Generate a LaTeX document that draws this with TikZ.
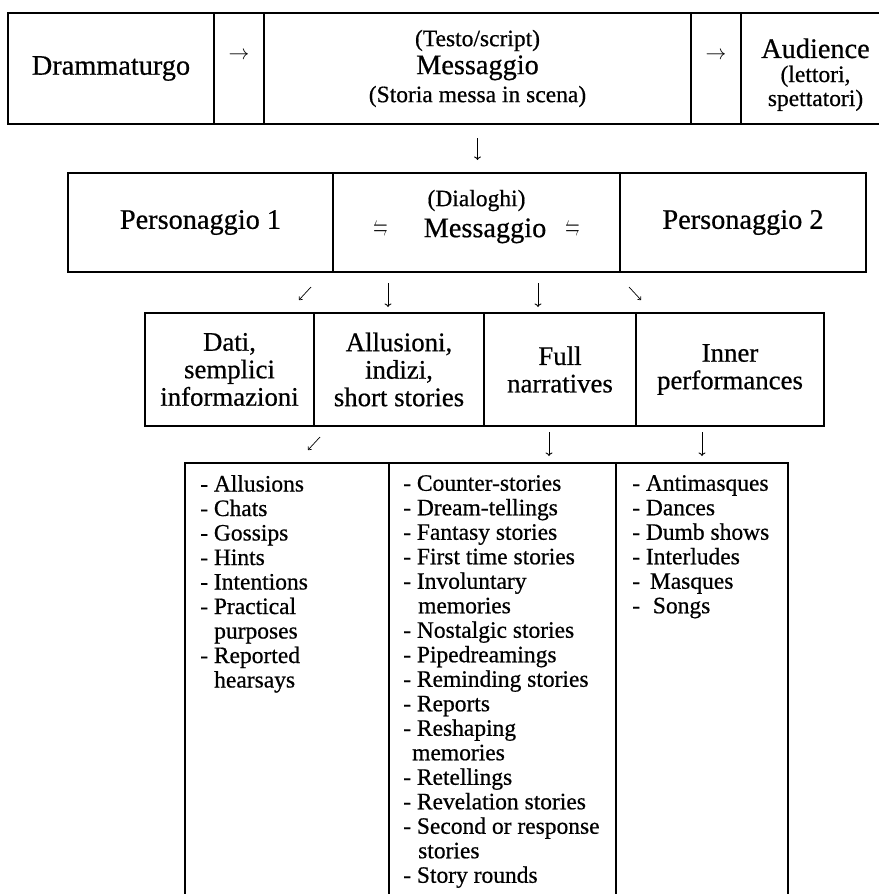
\documentclass[tikz,border=0pt]{standalone}
\usepackage{amsmath}
\usepackage{amssymb}
\usepackage{fontspec}
\setmainfont{Liberation Serif}[FakeBold=0.6]
\usetikzlibrary{arrows.meta}
\usetikzlibrary{positioning}
\newcommand{\mainfs}{\fontsize{28.3}{28}\selectfont}
\newcommand{\notefs}{\fontsize{23.5}{28}\selectfont}
\newcommand{\headfs}{\fontsize{26.8}{27.5}\selectfont}
\newcommand{\listfs}{\fontsize{23.5}{24.5}\selectfont}
\newcommand{\harp}{{\fontsize{15}{15}\selectfont\raisebox{2pt}{\scalebox{0.95}[1.9]{$\leftrightharpoons$}}}}
\tikzstyle{cell}=[draw, line width=2pt, inner sep=0pt, outer sep=0pt, align=center]
\tikzstyle{list}=[anchor=north west, align=left, inner sep=0pt, font=\listfs]
\tikzset{flow/.style={line width=0.9pt, -{To[length=3.5pt,width=7pt]}},
	slant/.style={line width=0.7pt, -{To[length=3pt,width=5pt]}}}

\begin{document}
\begin{tikzpicture}[x=1pt, y=1pt]
		\fill[white] (0,0) rectangle (878,-894);
		\useasboundingbox (0,0) rectangle (878,-894);
		\node[cell, anchor=north west, minimum width=206pt, minimum height=111pt, font=\mainfs] (dram) at (8,-13) {Drammaturgo};
		\node[cell, right=0pt of dram, minimum width=50pt, minimum height=111pt] (pipe1) {};
		\node[cell, right=0pt of pipe1, minimum width=427pt, minimum height=111pt, font=\mainfs] (msg) {{\notefs (Testo/script)}\\Messaggio\\{\notefs (Storia messa in scena)}};
		\node[cell, right=0pt of msg, minimum width=50pt, minimum height=111pt] (pipe2) {};
		\node[cell, right=0pt of pipe2, minimum width=149pt, minimum height=111pt, font=\fontsize{28.3}{24}\selectfont] (aud) {\rule{0pt}{32pt}Audience\\{\notefs (lettori,}\\{\notefs spettatori)}};
		\node[font=\fontsize{20}{20}\selectfont] (to1) at ([yshift=13pt]pipe1.center) {$\rightarrow$};
		\node[font=\fontsize{20}{20}\selectfont] (to2) at ([yshift=13pt]pipe2.center) {$\rightarrow$};
		\node[cell, anchor=north west, minimum width=265pt, minimum height=99pt, font=\mainfs] (pers1) at (68,-173) {Personaggio 1};
		\node[cell, right=0pt of pers1, minimum width=287pt, minimum height=99pt, font=\fontsize{28.3}{31}\selectfont] (dial) {{\notefs (Dialoghi)}\\\harp\hspace{36pt}Messaggio\hspace{19pt}\harp\rule[-18pt]{0pt}{18pt}};
		\node[cell, right=0pt of dial, minimum width=246pt, minimum height=99pt, font=\mainfs] (pers2) {Personaggio 2};
		\node[cell, anchor=north west, minimum width=169pt, minimum height=113pt, font=\headfs] (dati) at (145,-313) {Dati,\\semplici\\informazioni};
		\node[cell, right=0pt of dati, minimum width=170pt, minimum height=113pt, font=\headfs] (allus) {Allusioni,\\indizi,\\short stories};
		\node[cell, right=0pt of allus, minimum width=152pt, minimum height=113pt, font=\headfs] (full) {Full\\narratives};
		\node[cell, right=0pt of full, minimum width=188pt, minimum height=113pt, font=\headfs] (inner) {Inner\\performances};
		\node[cell, anchor=north west, minimum width=204pt, minimum height=450pt] (colA) at (185,-463) {};
		\node[cell, right=0pt of colA, minimum width=227pt, minimum height=450pt] (colB) {};
		\node[cell, right=0pt of colB, minimum width=172pt, minimum height=450pt] (colC) {};
		\node[list] (lstA) at ([xshift=15pt,yshift=-12pt]colA.north west) {- Allusions\\- Chats\\- Gossips\\- Hints\\- Intentions\\- Practical\\\hspace*{14pt}purposes\\- Reported\\\hspace*{14pt}hearsays};
		\node[list] (lstB) at ([xshift=14pt,yshift=-12pt]colB.north west) {- Counter-stories\\- Dream-tellings\\- Fantasy stories\\- First time stories\\- Involuntary\\\hspace*{15pt}memories\\- Nostalgic stories\\- Pipedreamings\\- Reminding stories\\- Reports\\- Reshaping\\\hspace*{9pt}memories\\- Retellings\\- Revelation stories\\- Second or response\\\hspace*{15pt}stories\\- Story rounds};
		\node[list] (lstC) at ([xshift=16pt,yshift=-12pt]colC.north west) {- Antimasques\\- Dances\\- Dumb shows\\- Interludes\\-\hspace*{4pt} Masques\\-\hspace*{7pt} Songs};
		\draw[flow, shorten <=14pt, shorten >=13pt] (msg.south) -- (msg.south |- pers1.north);
		\path (311,-287) coordinate (dl1) ++(-12,-13) coordinate (dl2);
		\path (388,-283) coordinate (d1) ++(0,-24) coordinate (d2);
		\path (538,-283) coordinate (d3) ++(0,-24) coordinate (d4);
		\path (629,-287) coordinate (dr1) ++(12,-13) coordinate (dr2);
		\path (320,-437) coordinate (dl3) ++(-12,-13) coordinate (dl4);
		\path (549,-432) coordinate (d5) ++(0,-24) coordinate (d6);
		\path (702,-432) coordinate (d7) ++(0,-24) coordinate (d8);
		\draw[slant] (dl1) to (dl2);
		\draw[flow] (d1) to (d2);
		\draw[flow] (d3) to (d4);
		\draw[slant] (dr1) to (dr2);
		\draw[slant] (dl3) to (dl4);
		\draw[flow] (d5) to (d6);
		\draw[flow] (d7) to (d8);
\end{tikzpicture}
\end{document}
